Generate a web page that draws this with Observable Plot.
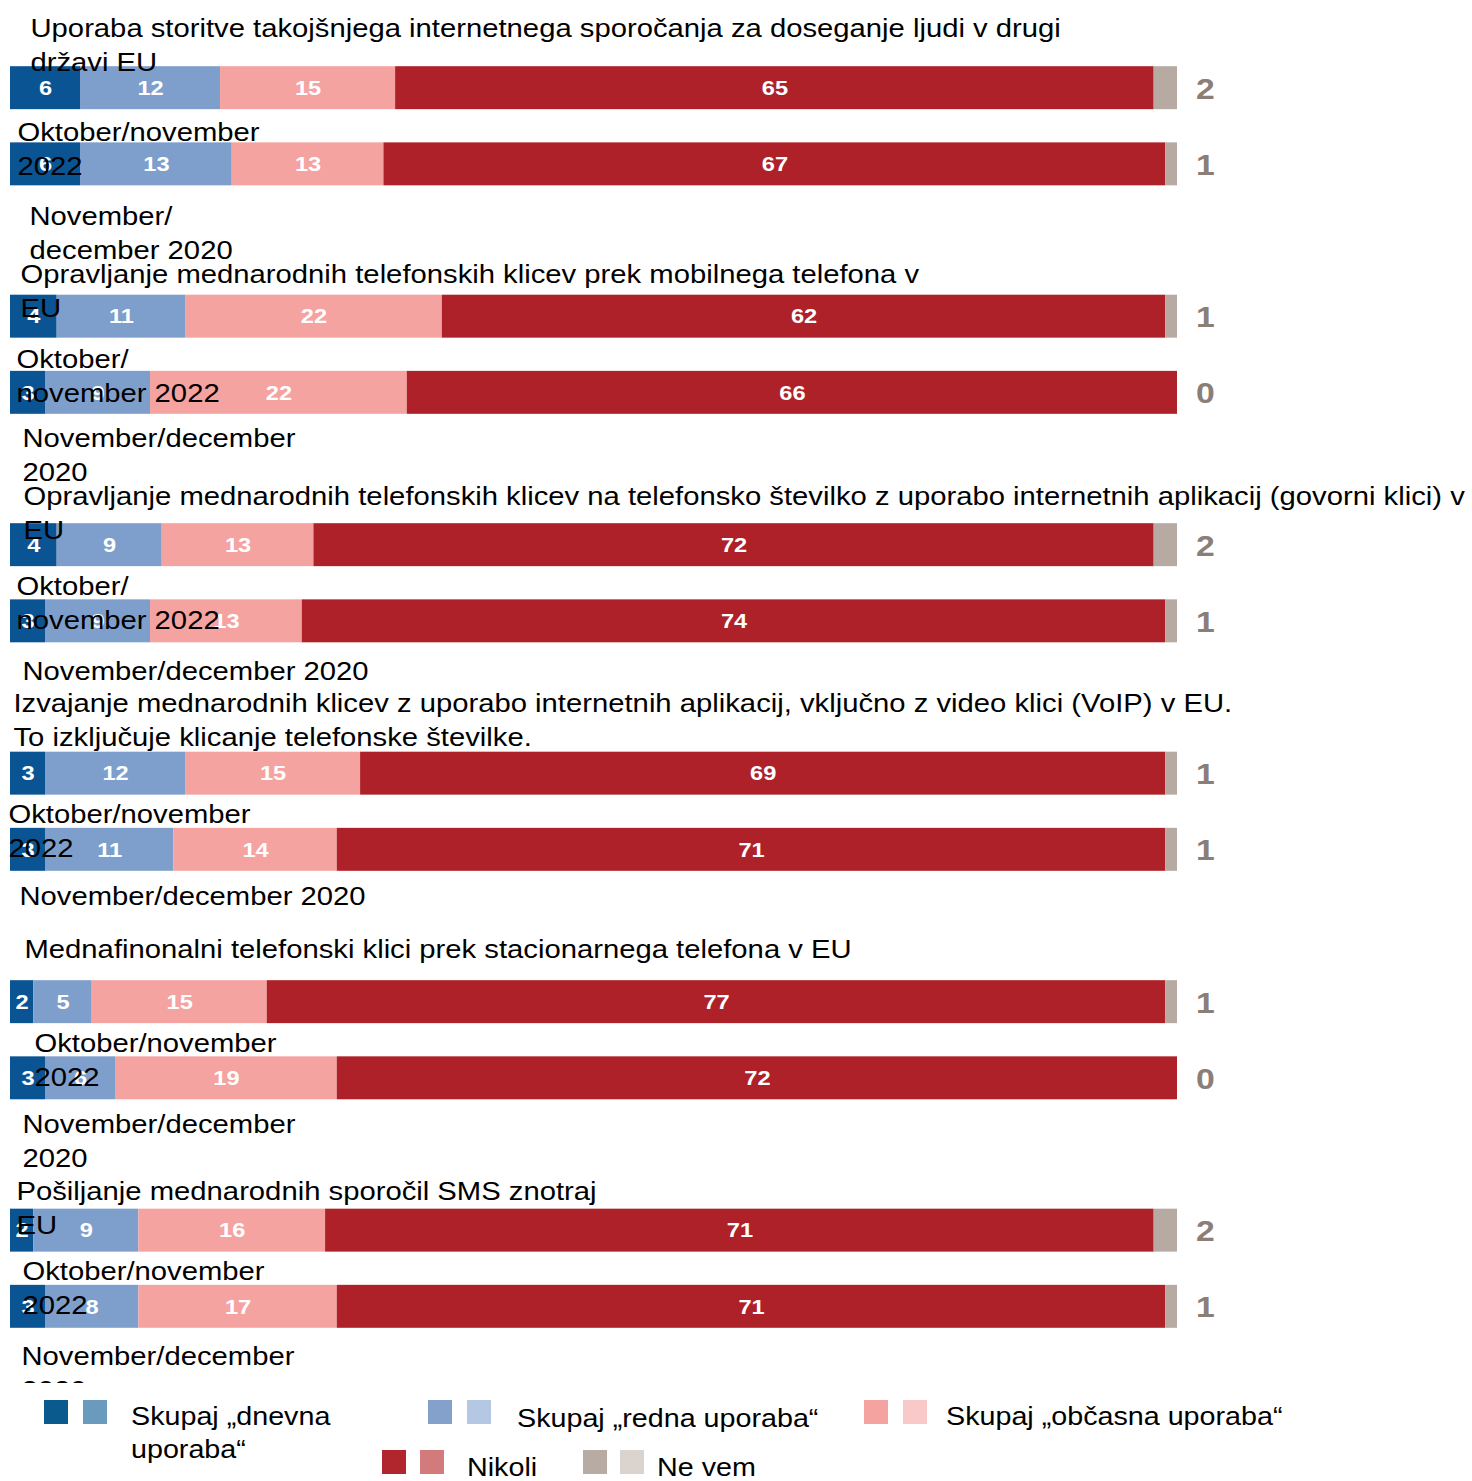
<!DOCTYPE html>
<html><head><meta charset="utf-8">
<script src="https://cdn.jsdelivr.net/npm/d3@7"></script>
<script src="https://cdn.jsdelivr.net/npm/@observablehq/plot@0.6"></script>
<style>
body{margin:0;background:#fff;}
#wrap{position:relative;width:1472px;height:1481px;overflow:hidden;background:#fff;font-family:"Liberation Sans",Arial,sans-serif;}
#chart svg{display:block;}
.sw{position:absolute;width:24px;height:24px;}
.lt{position:absolute;font-size:25.5px;line-height:33px;color:#000;transform:scaleX(1.125);transform-origin:0 0;white-space:nowrap;}
</style></head><body><div id="wrap"><div id="chart"></div><div id="legend"></div></div>
<script>
// ---- data ----
const titles = [
  "Uporaba storitve takojšnjega internetnega sporočanja za doseganje ljudi v drugi\ndržavi EU",
  "Opravljanje mednarodnih telefonskih klicev prek mobilnega telefona v\nEU",
  "Opravljanje mednarodnih telefonskih klicev na telefonsko številko z uporabo internetnih aplikacij (govorni klici) v\nEU",
  "Izvajanje mednarodnih klicev z uporabo internetnih aplikacij, vključno z video klici (VoIP) v EU.\nTo izključuje klicanje telefonske številke.",
  "Mednafinonalni telefonski klici prek stacionarnega telefona v EU",
  "Pošiljanje mednarodnih sporočil SMS znotraj\nEU"
];
const periods = [
  "Oktober/november\n2022", "November/\ndecember 2020",
  "Oktober/\nnovember 2022", "November/december\n2020",
  "Oktober/\nnovember 2022", "November/december 2020",
  "Oktober/november\n2022", "November/december 2020",
  "Oktober/november\n2022", "November/december\n2020",
  "Oktober/november\n2022", "November/december\n2020"
];
const categories = ["Skupaj „dnevna uporaba“", "Skupaj „redna uporaba“", "Skupaj „občasna uporaba“", "Nikoli", "Ne vem"];
const dnevna  = [6, 6, 4, 3, 4, 3, 3, 3, 2, 3, 2, 3];
const redna   = [12, 13, 11, 9, 9, 9, 12, 11, 5, 6, 9, 8];
const obcasna = [15, 13, 22, 22, 13, 13, 15, 14, 15, 19, 16, 17];
const nikoli  = [65, 67, 62, 66, 72, 74, 69, 71, 77, 72, 71, 71];
const neVem   = [2, 1, 1, 0, 2, 1, 1, 1, 1, 0, 2, 1];

// ---- styles / layout ----
const barColors = ["#0b5493", "#7e9fcb", "#f4a3a1", "#ae2129", "#b7aaa3"];
const legendColors = [["#0b5a8e", "#6a9bbe"], ["#84a1cc", "#b4c7e3"], ["#f4a3a1", "#f9c9c9"], ["#b1252c", "#d17b7d"], ["#b8aba4", "#dad3ce"]];
const FS = 26, LH = 34 / 26, STRETCH = 1.125;
const titleX = [30, 20, 23, 13, 24, 16];
const titleBase = [-51, -34, -40, -61.5, -44, -31];
const periodX = [17, 29, 16, 22, 16, 22, 8, 19, 34, 22, 22, 21];
const periodBase = [52.5, 61, 51, 54, 50, 58.5, 49.5, 55.5, 50, 54.5, 49, 58.5];
const legendLayout = [
  {sx: [44, 83], sy: 1400, tx: 131, ty: 1400, wrap: true},
  {sx: [428, 467], sy: 1400, tx: 517, ty: 1402},
  {sx: [864, 903], sy: 1400, tx: 946, ty: 1400},
  {sx: [382, 420], sy: 1450, tx: 467, ty: 1451},
  {sx: [583, 620], sy: 1450, tx: 657, ty: 1451}
];

// ---- build ----
const series = [dnevna, redna, obcasna, nikoli, neVem];
const barKeys = d3.range(periods.length).map(i => `b${i}`);
const rows = [];
barKeys.forEach((key, i) => categories.forEach((c, k) => rows.push({key, category: c, value: series[k][i]})));
const yDomain = [];
titles.forEach((t, g) => {
  yDomain.push(barKeys[2 * g], barKeys[2 * g + 1]);
  if (g < titles.length - 1) yDomain.push(`gap${g}`);
});
const topShift = 0.71 * LH * FS;
const textFont = "Liberation Sans, Arial, sans-serif";

const titleMarks = titles.map((t, g) => Plot.text([{t, key: barKeys[2 * g]}], {
  y: "key", text: "t", frameAnchor: "left", textAnchor: "start", lineAnchor: "top",
  dx: titleX[g] - 10, dy: titleBase[g] - topShift, fontSize: FS, lineHeight: LH,
  fill: "#000", fontFamily: textFont
}));
const periodMarks = periods.map((p, i) => Plot.text([{p, key: barKeys[i]}], {
  y: "key", text: "p", frameAnchor: "left", textAnchor: "start", lineAnchor: "top",
  dx: periodX[i] - 10, dy: periodBase[i] - topShift, fontSize: FS, lineHeight: LH,
  fill: "#000", fontFamily: textFont
}));

const chart = Plot.plot({
  width: 1472, height: 1383,
  marginLeft: 10, marginRight: 295, marginTop: 33, marginBottom: 22,
  x: {domain: [0, 100], axis: null},
  y: {type: "band", domain: yDomain, axis: null, padding: 0.436, round: false},
  color: {domain: categories, range: barColors},
  style: {background: "#fff", overflow: "hidden", fontFamily: textFont},
  marks: [
    Plot.barX(rows, {x: "value", y: "key", fill: "category"}),
    Plot.text(rows, Plot.stackX({
      filter: d => d.category !== "Ne vem",
      x: "value", y: "key", text: d => String(d.value),
      fill: "white", fontWeight: "bold", fontSize: 21,
      fontFamily: "Liberation Sans Narrow, Liberation Sans, sans-serif"
    })),
    Plot.text(rows.filter(d => d.category === "Ne vem"), {
      y: "key", text: d => String(d.value), frameAnchor: "right", textAnchor: "middle",
      dx: 28, dy: 1, fill: "#8b7e77", fontWeight: "bold", fontSize: 30,
      fontFamily: "Liberation Sans Narrow, Liberation Sans, sans-serif"
    }),
    ...titleMarks,
    ...periodMarks
  ]
});
chart.querySelectorAll("text").forEach(el => {
  const tr = el.getAttribute("transform") || "";
  el.setAttribute("transform", `${tr} scale(${STRETCH},1)`);
});
document.getElementById("chart").appendChild(chart);

// ---- legend ----
const legend = document.getElementById("legend");
categories.forEach((c, k) => {
  const L = legendLayout[k];
  L.sx.forEach((x, j) => {
    const s = document.createElement("div");
    s.className = "sw";
    s.style.left = x + "px"; s.style.top = L.sy + "px";
    s.style.background = legendColors[k][j];
    legend.appendChild(s);
  });
  const t = document.createElement("div");
  t.className = "lt";
  t.style.left = L.tx + "px"; t.style.top = L.ty + "px";
  if (L.wrap) {
    const parts = c.split(" uporaba");
    t.appendChild(document.createTextNode(parts[0]));
    t.appendChild(document.createElement("br"));
    t.appendChild(document.createTextNode("uporaba" + parts[1]));
  } else t.textContent = c;
  legend.appendChild(t);
});
</script></body></html>
